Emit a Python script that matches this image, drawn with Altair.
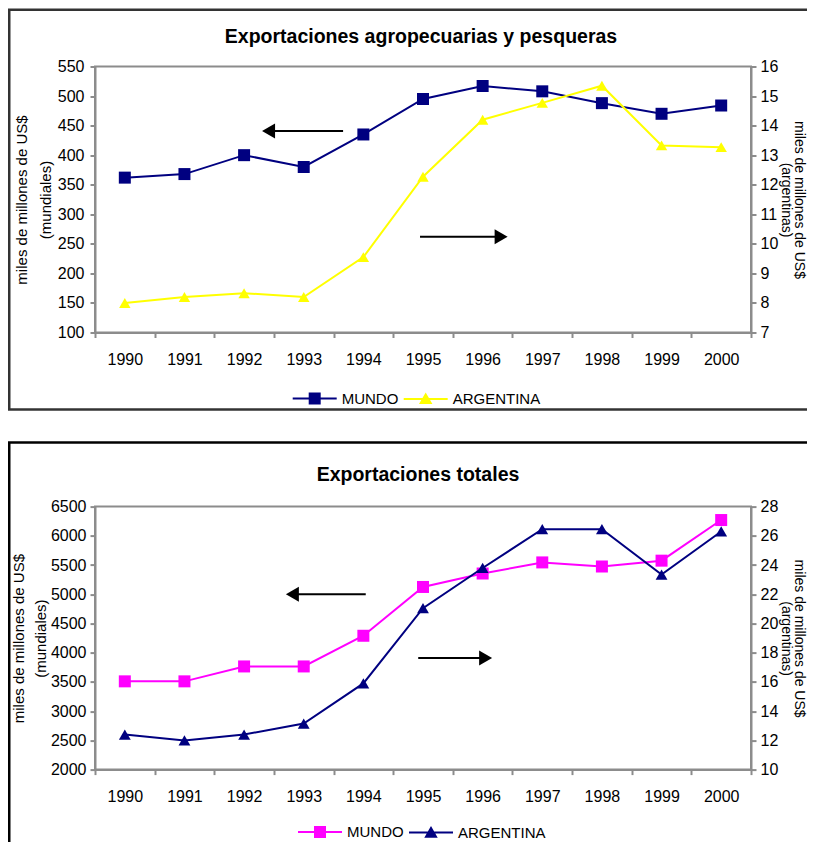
import altair as alt
import pandas as pd

years = [str(y) for y in range(1990, 2001)]
series = ["MUNDO", "ARGENTINA"]

# Panel 1: Exportaciones agropecuarias y pesqueras
agro_title = "Exportaciones agropecuarias y pesqueras"
agro_mundo = [362, 368, 400, 380, 435, 495, 517, 508, 488, 470, 484]
agro_arg = [8.0, 8.2, 8.33, 8.2, 9.55, 12.27, 14.2, 14.77, 15.35, 13.33, 13.27]
agro_left_ticks = [100, 150, 200, 250, 300, 350, 400, 450, 500, 550]
agro_right_ticks = [7, 8, 9, 10, 11, 12, 13, 14, 15, 16]
agro_colors = ["#000080", "#FFFF00"]
# arrows: y in left-axis units, x in band units (0..11)
agro_arrow_y = [441, 262]
agro_arrow_tail = [4.16, 5.45]
agro_arrow_head = [2.91, 6.81]

# Panel 2: Exportaciones totales
tot_title = "Exportaciones totales"
tot_mundo = [3510, 3510, 3765, 3765, 4290, 5125, 5355, 5545, 5475, 5575, 6270]
tot_arg = [12.4, 12.0, 12.4, 13.15, 15.9, 21.05, 23.8, 26.45, 26.45, 23.35, 26.3]
tot_left_ticks = [2000, 2500, 3000, 3500, 4000, 4500, 5000, 5500, 6000, 6500]
tot_right_ticks = [10, 12, 14, 16, 18, 20, 22, 24, 26, 28]
tot_colors = ["#FF00FF", "#000080"]
tot_arrow_y = [5000, 3908]
tot_arrow_tail = [4.54, 5.42]
tot_arrow_head = [3.31, 6.55]

left_title = ["miles de millones de US$", "(mundiales)"]
right_title = ["miles de millones de US$", "(argentinas)"]

FONT = "Liberation Sans"
GRAY = "#8c8c8c"
SQ_PATH = "M-2.2,0L2.2,0M-0.5,-0.5L0.5,-0.5L0.5,0.5L-0.5,0.5Z"
TRI_PATH = "M-2.2,0L2.2,0M-0.5,0.42L0.5,0.42L0,-0.45Z"


def panel(title, title_xy, mundo, arg, colors, left_ticks, right_ticks,
          arrow_y, arrow_tail, arrow_head, w, h, frame_segs, frame_color, leg_xy,
          msize, asize, ltitle):
    df = pd.DataFrame({"year": years, "mundo": mundo, "arg": arg})
    band = alt.Scale(type="band", paddingInner=0, paddingOuter=0)
    xaxis = alt.Axis(tickBand="extent", labelAngle=0, labelPadding=14, title=None)

    def X(axis=None):
        return alt.X("year:O", scale=band, bandPosition=0.5, axis=axis, sort=years)

    lscale = alt.Scale(domain=[left_ticks[0], left_ticks[-1]], nice=False, zero=False)
    rscale = alt.Scale(domain=[right_ticks[0], right_ticks[-1]], nice=False, zero=False)
    laxis = alt.Axis(orient="left", values=left_ticks, format="d", title=left_title,
                     titleX=ltitle[0], titleAngle=270, titleBaseline="bottom",
                     labelPadding=ltitle[2], titleLineHeight=ltitle[1])
    raxis = alt.Axis(orient="right", values=right_ticks, format="d", title=right_title,
                     titleX=40.5, titleAngle=90, titleBaseline="bottom", titleFontSize=14,
                     labelPadding=4, titleLineHeight=13)
    base = alt.Chart(df)
    mline = base.mark_line(color=colors[0], strokeWidth=2).encode(
        x=X(xaxis), y=alt.Y("mundo:Q", scale=lscale, axis=laxis))
    mpts = base.mark_point(shape="square", filled=True, size=msize, color=colors[0], opacity=1).encode(
        x=X(), y=alt.Y("mundo:Q", scale=lscale, axis=None))
    aline = base.mark_line(color=colors[1], strokeWidth=2).encode(
        x=X(), y=alt.Y("arg:Q", scale=rscale, axis=raxis))
    apts = base.mark_point(shape="triangle-up", filled=True, size=asize, color=colors[1], opacity=1).encode(
        x=X(), y=alt.Y("arg:Q", scale=rscale, axis=None))

    arrows_df = pd.DataFrame({"y": arrow_y, "tail": arrow_tail, "head": arrow_head})
    ascale = alt.Scale(domain=[0, 11], nice=False, zero=False)
    arr = alt.Chart(arrows_df).mark_rule(color="black", strokeWidth=2).encode(
        x=alt.X("tail:Q", scale=ascale, axis=None), x2="head:Q",
        y=alt.Y("y:Q", scale=lscale, axis=None))
    head_l = alt.Chart(arrows_df.iloc[[0]]).mark_point(
        shape="triangle-left", filled=True, size=225, color="black", opacity=1).encode(
        x=alt.X("head:Q", scale=ascale, axis=None), y=alt.Y("y:Q", scale=lscale, axis=None))
    head_r = alt.Chart(arrows_df.iloc[[1]]).mark_point(
        shape="triangle-right", filled=True, size=225, color="black", opacity=1).encode(
        x=alt.X("head:Q", scale=ascale, axis=None), y=alt.Y("y:Q", scale=lscale, axis=None))

    L = alt.Legend(orient="none", legendX=leg_xy[0], legendY=leg_xy[1], direction="horizontal",
                   title=None, symbolSize=400, symbolStrokeWidth=2, labelOffset=16,
                   columnPadding=1, padding=0, labelFontSize=15, labelFont=FONT,
                   labelColor="black")
    leg = alt.Chart(pd.DataFrame({"serie": series})).transform_filter("false").mark_point(
        filled=True, opacity=1, strokeWidth=2).encode(
        fill=alt.Fill("serie:N", scale=alt.Scale(domain=series, range=colors), legend=L),
        stroke=alt.Stroke("serie:N", scale=alt.Scale(domain=series, range=colors), legend=L),
        shape=alt.Shape("serie:N", scale=alt.Scale(domain=series, range=[SQ_PATH, TRI_PATH]), legend=L),
    )
    one = pd.DataFrame({"k": [0]})
    frame_layers = []
    for (x1, x2, y1, y2) in frame_segs:
        frame_layers.append(
            alt.Chart(one).mark_rule(color=frame_color, strokeWidth=2.5).encode(
                x=alt.value(x1), x2=alt.value(x2), y=alt.value(y1), y2=alt.value(y2)))
    ttl = alt.Chart(pd.DataFrame({"t": [title]})).mark_text(
        font=FONT, fontSize=19.5, fontWeight="bold", color="black",
        align="center", baseline="middle").encode(
        text="t:N", x=alt.value(title_xy[0]), y=alt.value(title_xy[1]))
    return alt.layer(*frame_layers, mline, mpts, aline, apts, arr, head_l, head_r, leg, ttl).resolve_scale(
        x="independent", y="independent").properties(width=w, height=h)


top = panel(agro_title, (326, -30), agro_mundo, agro_arg, agro_colors, agro_left_ticks, agro_right_ticks,
            agro_arrow_y, agro_arrow_tail, agro_arrow_head, 656, 266,
            [(-85.75, -85.75, -56.75, 343), (-87, 735, -56.75, -56.75), (-87, 735, 343, 343)],
            "#333333", (208.7, 321), 144, 130, (-65.3, 23.4, 6))
bot = panel(tot_title, (323, -31.5), tot_mundo, tot_arg, tot_colors, tot_left_ticks, tot_right_ticks,
            tot_arrow_y, tot_arrow_tail, tot_arrow_head, 656, 263,
            [(-85.75, -85.75, -64, 345), (-87, 735, -64, -64)],
            "#000000", (214, 314.5), 144, 140, (-68.3, 22, 4))

chart = alt.vconcat(top, bot, spacing=27.1).resolve_scale(
    fill="independent", stroke="independent", shape="independent"
).resolve_legend(
    fill="independent", stroke="independent", shape="independent"
).properties(
    padding={"left": -3, "top": -0.5, "right": -26, "bottom": 0}
).configure(
    font=FONT
).configure_view(stroke=GRAY, strokeWidth=2).configure_axis(
    labelFont=FONT, labelFontSize=16, labelColor="black",
    titleFont=FONT, titleFontSize=15, titleFontWeight="normal", titleColor="black",
    domainColor=GRAY, domainWidth=2, tickColor=GRAY, tickWidth=2, tickSize=5, grid=False
)

chart.save("out.html", embed_options={"renderer": "svg", "actions": False})
